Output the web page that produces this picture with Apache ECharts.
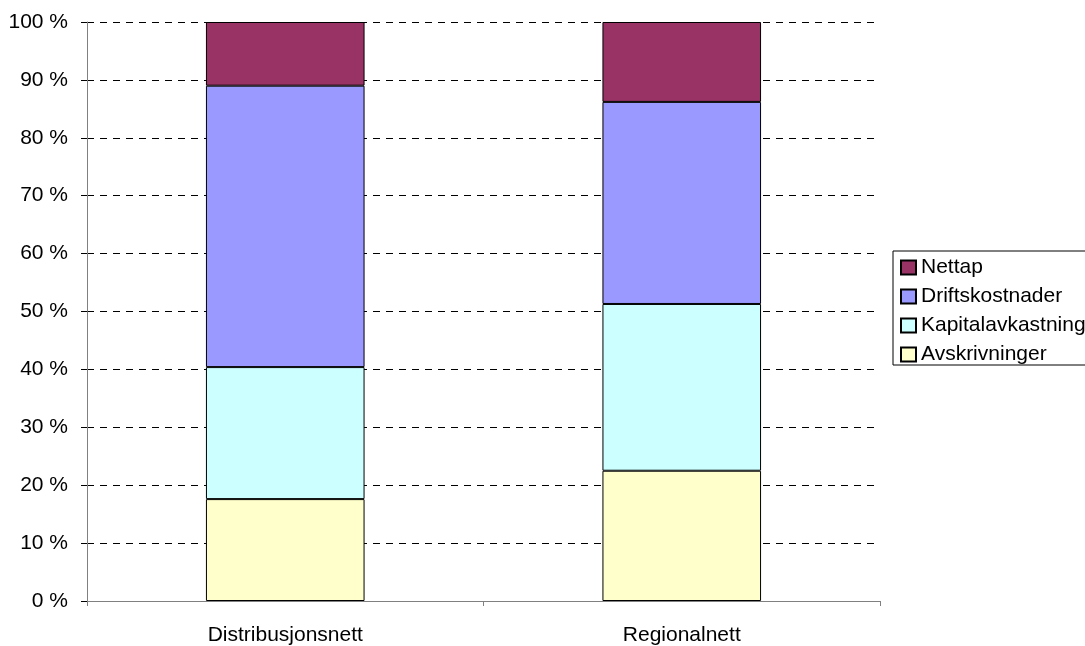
<!DOCTYPE html>
<html>
<head>
<meta charset="utf-8">
<script src="https://cdn.jsdelivr.net/npm/echarts@6/dist/echarts.min.js"></script>
<style>
  html, body { margin: 0; padding: 0; background: #fff; }
  #chart { width: 1085px; height: 646px; }
</style>
</head>
<body>
<div id="chart"></div>
<script>
// Cost composition per network level (share of total, %)
const categories = ['Distribusjonsnett', 'Regionalnett'];
const avskrivninger = [17.6, 22.5];
const kapitalavkastning = [22.8, 28.8];
const driftskostnader = [48.6, 34.9];
const nettap = [11.0, 13.8];
const yTicks = [0, 10, 20, 30, 40, 50, 60, 70, 80, 90, 100];

const seriesDefs = [
  { name: 'Avskrivninger', data: avskrivninger, color: '#FFFFCC' },
  { name: 'Kapitalavkastning', data: kapitalavkastning, color: '#CCFFFF' },
  { name: 'Driftskostnader', data: driftskostnader, color: '#9999FF' },
  { name: 'Nettap', data: nettap, color: '#993366' }
];

const font = 'Liberation Sans, Arial, sans-serif';
const chart = echarts.init(document.getElementById('chart'));

chart.setOption({
  animation: false,
  grid: { left: 87, right: 205, top: 22, bottom: 43, containLabel: false },
  legend: {
    orient: 'vertical',
    left: 893,
    top: 251,
    data: ['Nettap', 'Driftskostnader', 'Kapitalavkastning', 'Avskrivninger'],
    icon: 'rect',
    itemWidth: 15,
    itemHeight: 14,
    itemGap: 8,
    padding: [6, 8, 0, 7],
    borderColor: '#000',
    borderWidth: 1,
    textStyle: { fontFamily: font, fontSize: 21, color: '#000', lineHeight: 21 }
  },
  xAxis: {
    type: 'category',
    data: categories,
    axisLine: { lineStyle: { color: '#808080', width: 1 } },
    axisTick: { show: true, length: 5, lineStyle: { color: '#808080' } },
    axisLabel: { fontFamily: font, fontSize: 21, color: '#000', margin: 24 }
  },
  yAxis: {
    type: 'value',
    min: yTicks[0],
    max: yTicks[yTicks.length - 1],
    interval: 10,
    axisLine: { show: true, lineStyle: { color: '#808080', width: 1 } },
    axisTick: { show: true, length: 6, lineStyle: { color: '#000' } },
    axisLabel: { fontFamily: font, fontSize: 21, color: '#000', margin: 19, formatter: v => v + ' %' },
    splitLine: { show: true, lineStyle: { color: '#000', type: [7, 6], width: 1 } }
  },
  series: seriesDefs.map(s => ({
    name: s.name,
    type: 'bar',
    stack: 'total',
    data: s.data,
    barWidth: '40%',
    itemStyle: { color: s.color, borderColor: '#000', borderWidth: 1 }
  }))
});
</script>
</body>
</html>
